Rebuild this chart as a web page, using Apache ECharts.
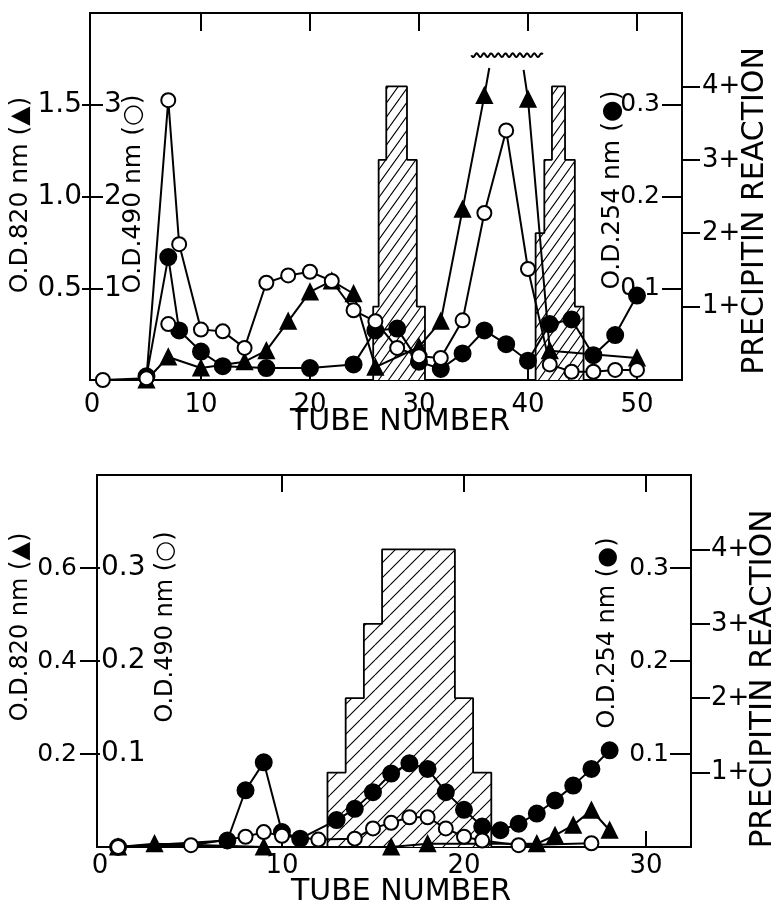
<!DOCTYPE html>
<html><head><meta charset="utf-8">
<script src="https://cdn.jsdelivr.net/npm/echarts@6/dist/echarts.min.js"></script>
<style>html,body{margin:0;padding:0;background:#fff}#c{width:775px;height:903px}</style>
</head><body><div id="c"></div>
<script>
// ================= DATA =================
// Top panel: tube number / value pairs
const topTubeLabels = [0, 10, 20, 30, 40, 50];
const topTubeTicks = [10, 20, 30, 40, 50];
const topOD820Ticks = [0.5, 1.0, 1.5];
const topOD490Ticks = [1, 2, 3];
const topOD254Ticks = [0.1, 0.2, 0.3];
const precipTicks = [1, 2, 3, 4];

// O.D. 820 nm (triangles); 'cut' = line runs off scale (no marker)
const topTriangle820 = [[5,0.0],[7,0.125],[10,0.065],[14,0.10],[16,0.16],[18,0.32],[20,0.48],[22,0.54],[24,0.47],[26,0.07],[30,0.18],[32,0.32],[34,0.93],[36,1.55],[36.45,1.70,'cut'],null,[39.6,1.69,'cut'],[40,1.53],[42,0.16],[50,0.12]];
// O.D. 490 nm (open circles)
const topCircle490 = [[1,0],[5,0.02],[7,3.05],[8,1.48],[10,0.55],[12,0.53],[14,0.35],[16,1.06],[18,1.14],[20,1.18],[22,1.08],[24,0.76],[26,0.64],[28,0.35],[30,0.26],[32,0.24],[34,0.65],[36,1.82],[38,2.72],[40,1.21],[42,0.17],[44,0.09],[46,0.09],[48,0.11],[50,0.11]];
const topCircle490Extra = [[7,0.61]];
// O.D. 254 nm (filled circles)
const topDot254 = [[5,0.004],[7,0.134],[8,0.054],[10,0.031],[12,0.015],[16,0.013],[20,0.013],[24,0.017],[26,0.054],[28,0.056],[30,0.02],[32,0.012],[34,0.029],[36,0.054],[38,0.039],[40,0.021],[42,0.061],[44,0.066],[46,0.027],[48,0.049],[50,0.092]];
// Precipitin reaction histogram (edges in tube units, levels in "+")
const topPrecipEdgesA = [25.8, 26.3, 27.0, 28.9, 29.8, 30.55];
const topPrecipLevelsA = [1, 3, 4, 3, 1];
const topPrecipEdgesB = [40.7, 41.5, 42.2, 43.4, 44.3, 45.1];
const topPrecipLevelsB = [2, 3, 4, 3, 1];
// off-scale mark: [from tube, to tube, O.D.820 level]
const topOffScaleMark = [34.8, 41.4, 1.77];

// Bottom panel
const botTubeLabels = [0, 10, 20, 30];
const botTubeTicks = [10, 20, 30];
const botOD820Ticks = [0.2, 0.4, 0.6];
const botOD490Ticks = [0.1, 0.2, 0.3];
const botOD254Ticks = [0.1, 0.2, 0.3];
const botTriangle820 = [[1,0],[3,0.007],[9,0],[16,0],[18,0.007],[24,0.007],[25,0.025],[26,0.047],[27,0.079],[28,0.036]];
const botCircle490 = [[1,0],[5,0.002],[8,0.011],[9,0.016],[10,0.012],[12,0.008],[14,0.009],[15,0.02],[16,0.026],[17,0.032],[18,0.032],[19,0.020],[20,0.011],[21,0.007],[23,0.002],[27,0.004]];
const botDot254 = [[1,0],[7,0.007],[8,0.061],[9,0.091],[10,0.016],[11,0.009],[13,0.029],[14,0.041],[15,0.059],[16,0.079],[17,0.09],[18,0.084],[19,0.059],[20,0.040],[21,0.022],[22,0.018],[23,0.025],[24,0.036],[25,0.050],[26,0.066],[27,0.084],[28,0.104]];
const botPrecipEdges = [12.5, 13.5, 14.5, 15.5, 19.5, 20.5, 21.5];
const botPrecipLevels = [1, 2, 3, 4, 2, 1];

// ================= HELPERS =================
const FONT = '"DejaVu Sans", "Liberation Sans", sans-serif';
const BLACK = '#000';
const LW = 2;
function hatch(w, h) {
  const c = document.createElement('canvas');
  c.width = w; c.height = h;
  const g = c.getContext('2d');
  g.fillStyle = '#fff'; g.fillRect(0, 0, w, h);
  g.strokeStyle = '#000'; g.lineWidth = 1.1;
  g.beginPath();
  for (const k of [-1, 0, 1]) { g.moveTo(k * w, h); g.lineTo(k * w + w, 0); }
  g.stroke();
  return { image: c, repeat: 'repeat' };
}
function stepOutline(edges, levels) {
  const pts = [[edges[0], 0]];
  for (let i = 0; i < levels.length; i++) {
    pts.push([edges[i], levels[i]], [edges[i + 1], levels[i]]);
  }
  pts.push([edges[edges.length - 1], 0]);
  return pts;
}
function segments(arr) {
  const out = [[]];
  arr.forEach(p => {
    if (p === null) out.push([]);
    else out[out.length - 1].push(p.length > 2 ? { value: [p[0], p[1]], symbol: 'none' } : p);
  });
  return out;
}
function xAx(grid, pos, min, max, ticks, labels, tickLen, showLabels, margin) {
  return {
    type: 'value', gridIndex: grid, position: pos, min: min, max: max,
    axisLine: { show: false, onZero: false }, splitLine: { show: false },
    axisTick: { show: true, inside: true, length: tickLen, customValues: ticks, lineStyle: { color: BLACK, width: LW } },
    axisLabel: { show: showLabels, customValues: labels, margin: margin, color: BLACK, fontSize: 26, fontFamily: FONT }
  };
}
function yAx(grid, pos, max, ticks, inside, tickLen, margin, fmt, fs) {
  return {
    type: 'value', gridIndex: grid, position: pos, min: 0, max: max,
    axisLine: { show: false, onZero: false }, splitLine: { show: false },
    axisTick: { show: true, inside: inside, length: tickLen, customValues: ticks, lineStyle: { color: BLACK, width: LW } },
    axisLabel: { show: true, inside: inside, customValues: ticks, margin: margin, formatter: fmt, color: BLACK, fontSize: fs, fontFamily: FONT }
  };
}
const f1 = v => Number(v).toFixed(1);
const f0 = v => String(Math.round(v));
const fp = v => Math.round(v) + '+';

function lineSeries(xi, yi, data, sym, fill, size) {
  return {
    type: 'line', xAxisIndex: xi, yAxisIndex: yi, data: data,
    symbol: sym, symbolSize: size, showSymbol: true, showAllSymbol: true,
    lineStyle: { color: BLACK, width: LW },
    itemStyle: { color: fill, borderColor: BLACK, borderWidth: LW },
    emphasis: { disabled: true }, animation: false, clip: true, z: 3
  };
}
function histSeries(xi, yi, data, pattern) {
  return {
    type: 'line', xAxisIndex: xi, yAxisIndex: yi, data: data, symbol: 'none',
    lineStyle: { color: BLACK, width: 1.8 },
    areaStyle: { color: pattern, opacity: 1 },
    emphasis: { disabled: true }, animation: false, z: 1
  };
}
function vText(x, y, text, size, rot) {
  return {
    type: 'text', x: x, y: y, rotation: rot ? Math.PI / 2 : 0,
    style: { text: text, fontSize: size, fontFamily: FONT, fill: BLACK,
      align: 'center', verticalAlign: 'middle', textAlign: 'center', textVerticalAlign: 'middle' }
  };
}

const topHatch = hatch(10, 14);
const botHatch = hatch(15, 15);

const series = [];
// top panel
series.push(histSeries(0, 3, stepOutline(topPrecipEdgesA, topPrecipLevelsA), topHatch));
series.push(histSeries(0, 3, stepOutline(topPrecipEdgesB, topPrecipLevelsB), topHatch));
segments(topTriangle820).forEach(seg => series.push(lineSeries(0, 0, seg, 'triangle', BLACK, 15)));
series.push(lineSeries(0, 2, topDot254, 'circle', BLACK, 16));
series.push(lineSeries(0, 1, topCircle490, 'circle', '#fff', 14));
series.push(Object.assign(lineSeries(0, 1, topCircle490Extra, 'circle', '#fff', 14), { lineStyle: { width: 0 } }));
series.push({
  type: 'custom', xAxisIndex: 0, yAxisIndex: 0, data: [topOffScaleMark],
  encode: { x: [0, 1], y: 2 }, silent: true, clip: false, z: 4, animation: false,
  renderItem: function (p, api) {
    const a = api.coord([api.value(0), api.value(2)]);
    const b = api.coord([api.value(1), api.value(2)]);
    const pts = [];
    for (let x = a[0]; x <= b[0]; x += 0.5) {
      pts.push([x, a[1] + 1.8 * Math.sin((x - a[0]) / 7.2 * 2 * Math.PI)]);
    }
    return { type: 'polyline', shape: { points: pts }, style: { stroke: BLACK, lineWidth: 2, fill: null } };
  }
});
// bottom panel
series.push(histSeries(2, 7, stepOutline(botPrecipEdges, botPrecipLevels), botHatch));
series.push(lineSeries(2, 4, botTriangle820, 'triangle', BLACK, 15));
series.push(lineSeries(2, 6, botDot254, 'circle', BLACK, 16));
series.push(lineSeries(2, 5, botCircle490, 'circle', '#fff', 14));

const option = {
  animation: false,
  backgroundColor: '#fff',
  textStyle: { fontFamily: FONT },
  grid: [
    { left: 90, top: 13, width: 592, height: 367, show: true, borderColor: BLACK, borderWidth: 2, backgroundColor: 'transparent', containLabel: false, outerBoundsMode: 'none' },
    { left: 97, top: 475, width: 594, height: 372, show: true, borderColor: BLACK, borderWidth: 2, backgroundColor: 'transparent', containLabel: false, outerBoundsMode: 'none' }
  ],
  xAxis: [
    xAx(0, 'bottom', -0.18, 54.13, topTubeTicks, topTubeLabels, 15, true, 12),
    xAx(0, 'top', -0.18, 54.13, topTubeTicks, topTubeLabels, 18, false, 0),
    xAx(1, 'bottom', -0.16, 32.47, botTubeTicks, botTubeLabels, 16, true, 6),
    xAx(1, 'top', -0.16, 32.47, botTubeTicks, botTubeLabels, 17, false, 0)
  ],
  yAxis: [
    yAx(0, 'left', 2.0, topOD820Ticks, false, 8, 8, f1, 28),
    yAx(0, 'left', 4.0, topOD490Ticks, true, 13, 14, f0, 28),
    yAx(0, 'right', 0.4, topOD254Ticks, true, 20, 22, f1, 25),
    yAx(0, 'right', 5.0, precipTicks, false, 18, 20, fp, 26),
    yAx(1, 'left', 0.8, botOD820Ticks, false, 17, 20, f1, 25),
    yAx(1, 'left', 0.4, botOD490Ticks, true, 3, 4, f1, 28),
    yAx(1, 'right', 0.4, botOD254Ticks, true, 21, 22, f1, 25),
    yAx(1, 'right', 5.0, precipTicks, false, 19, 20, fp, 26)
  ],
  graphic: [
    vText(20, 195, 'O.D.820 nm (▲)', 25, true),
    vText(133, 194, 'O.D.490 nm (○)', 25, true),
    vText(612, 190, 'O.D.254 nm (●)', 25, true),
    vText(755, 211, 'PRECIPITIN REACTION', 30, true),
    vText(400, 422, 'TUBE NUMBER', 30, false),
    vText(21, 627, 'O.D.820 nm (▲)', 24, true),
    vText(166, 627, 'O.D.490 nm (○)', 24, true),
    vText(608, 633, 'O.D.254 nm (●)', 24, true),
    vText(763, 679, 'PRECIPITIN REACTION', 31, true),
    vText(401, 892, 'TUBE NUMBER', 30, false)
  ],
  series: series
};
const chart = echarts.init(document.getElementById('c'), null, { renderer: 'canvas' });
chart.setOption(option);
</script>
</body></html>
